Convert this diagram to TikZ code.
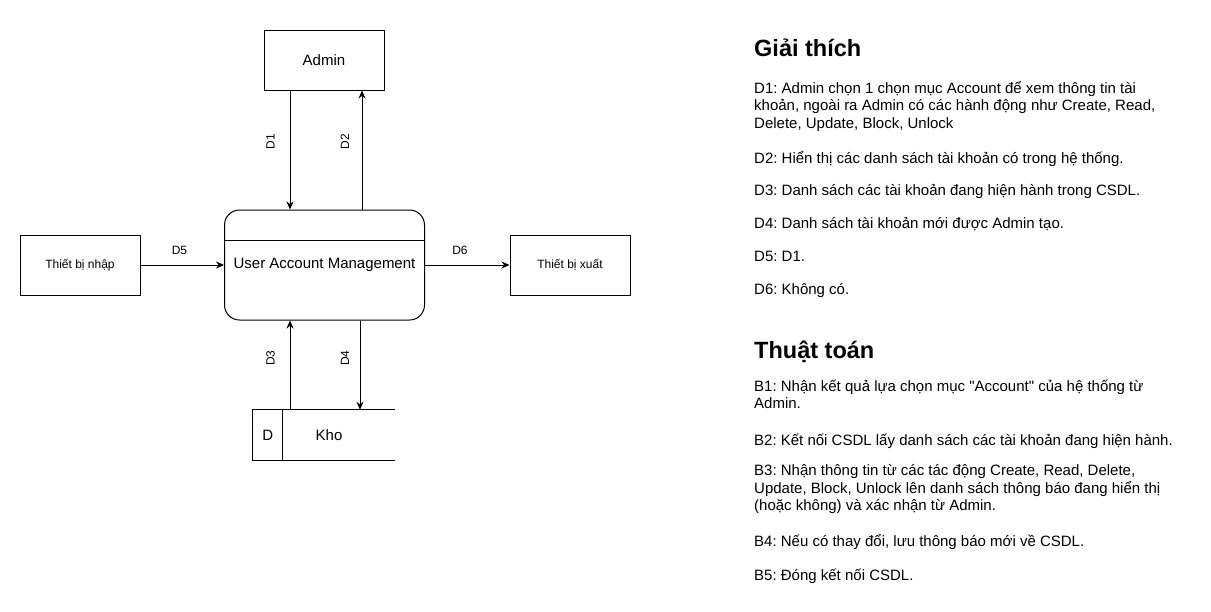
\documentclass[tikz,border=0pt]{standalone}
\usepackage{fontspec}
\setmainfont{Liberation Sans}
\usetikzlibrary{arrows.meta, positioning, calc}
\frenchspacing

\begin{document}
\begin{tikzpicture}[
    x=1pt, y=-1pt,
    entity/.style={rectangle, draw=black, line width=1pt,
                   minimum width=120pt, minimum height=60pt, inner sep=0pt,
                   font=\fontsize{15}{18}\selectfont},
    device/.style={rectangle, draw=black, line width=1pt,
                   minimum width=120pt, minimum height=60pt, inner sep=0pt,
                   font=\fontsize{12}{14}\selectfont},
    process/.style={rectangle, draw=black, line width=1pt, rounded corners=15pt,
                    minimum width=200pt, minimum height=110pt, inner sep=0pt,
                    font=\fontsize{15}{18}\selectfont},
    flow/.style={-{Stealth[length=8pt, width=7pt]}, line width=1pt},
    flowlabel/.style={inner sep=0pt, font=\fontsize{12}{14}\selectfont},
    heading/.style={anchor=base west, inner sep=0pt,
                    font=\fontsize{23.5}{28}\selectfont\bfseries},
    note/.style={anchor=north west, align=left, inner sep=0pt,
                 font=\fontsize{15}{17.5}\selectfont,
                 execute at begin node={\rule{0pt}{14pt}}}
]
    \useasboundingbox (0,0) rectangle (1211,611);

    % Entities
    \node[entity] (admin) at (324,60) {Admin};
    \node[process] (uam) at (324.5,265) {User Account Management};
    \draw[line width=1pt] ([yshift=25pt]uam.west) -- ([yshift=25pt]uam.east);
    \node[device] (tbn) at (80,265) {Thiết bị nhập};
    \node[device] (tbx) at (570,265) {Thiết bị xuất};

    % Data store
    \node[minimum width=142pt, minimum height=50pt, inner sep=0pt] (kho) at (324,435) {};
    \draw[line width=1pt] (kho.north east) -- (kho.north west) -- (kho.south west) -- (kho.south east);
    \draw[line width=1pt] ([xshift=30pt]kho.north west) -- ([xshift=30pt]kho.south west);
    \node[font=\fontsize{15}{18}\selectfont] (khoid) at ([xshift=15pt]kho.west) {D};
    \node[font=\fontsize{15}{18}\selectfont] (khoname) at ([xshift=5pt]kho.center) {Kho};

    % Flows
    \draw[flow] ([xshift=-34pt]admin.south) -- ([xshift=-34pt]admin.south |- uam.north);
    \draw[flow] ([xshift=37.5pt]uam.north) -- ([xshift=37.5pt]uam.north |- admin.south);
    \draw[flow] ([xshift=-34pt]kho.north) -- ([xshift=-34pt]kho.north |- uam.south);
    \draw[flow] ([xshift=35.5pt]uam.south) -- ([xshift=35.5pt]uam.south |- kho.north);
    \draw[flow] (tbn.east) -- (uam.west);
    \draw[flow] (uam.east) -- (tbx.west);

    % Flow labels
    \node[flowlabel, rotate=90] (d1) at (270.5,141.5) {D1};
    \node[flowlabel, rotate=90] (d2) at (345,141.5) {D2};
    \node[flowlabel, rotate=90] (d3) at (270.5,358) {D3};
    \node[flowlabel, rotate=90] (d4) at (345,358) {D4};
    \node[flowlabel] (d5) at (179.5,250) {D5};
    \node[flowlabel] (d6) at (460,250) {D6};

    % Explanation
    \node[heading] (giaithich) at (754,56.7) {Giải thích};
    \node[note] (n1) at (754,81) {D1: Admin chọn 1 chọn mục Account để xem thông tin tài\\
        khoản, ngoài ra Admin có các hành động như Create, Read,\\
        Delete, Update, Block, Unlock};
    \node[note] (n2) at (754,149.3) {D2: Hiển thị các danh sách tài khoản có trong hệ thống.};
    \node[note] (n3) at (754,181.7) {D3: Danh sách các tài khoản đang hiện hành trong CSDL.};
    \node[note] (n4) at (754,214.3) {D4: Danh sách tài khoản mới được Admin tạo.};
    \node[note] (n5) at (754,247.7) {D5: D1.};
    \node[note] (n6) at (754,280.3) {D6: Không có.};

    % Algorithm
    \node[heading] (thuattoan) at (754,358.3) {Thuật toán};
    \node[note] (b1) at (754,379.3) {B1: Nhận kết quả lựa chọn mục \textquotedbl Account\textquotedbl{} của hệ thống từ\\
        Admin.};
    \node[note] (b2) at (754,431) {B2: Kết nối CSDL lấy danh sách các tài khoản đang hiện hành.};
    \node[note] (b3) at (754,464.3) {B3: Nhận thông tin từ các tác động Create, Read, Delete,\\
        Update, Block, Unlock lên danh sách thông báo đang hiển thị\\
        (hoặc không) và xác nhận từ Admin.};
    \node[note] (b4) at (754,532.7) {B4: Nếu có thay đổi, lưu thông báo mới về CSDL.};
    \node[note] (b5) at (754,566) {B5: Đóng kết nối CSDL.};
\end{tikzpicture}
\end{document}
